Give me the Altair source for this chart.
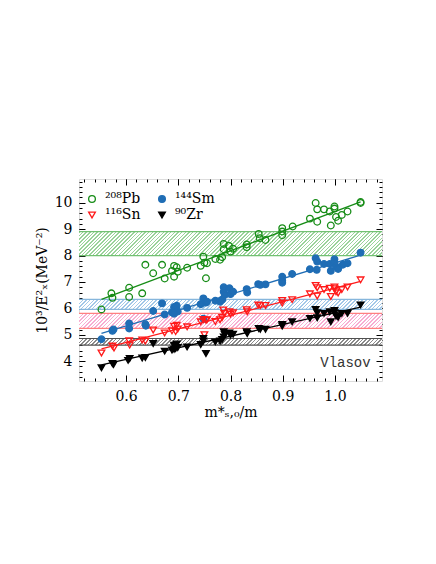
import altair as alt
import pandas as pd
import numpy as np

# ---------------- data ----------------
pb_x = [0.553, 0.572, 0.574, 0.606, 0.606, 0.631, 0.637, 0.652, 0.669, 0.674, 0.688, 0.692, 0.692,
        0.697, 0.699, 0.717, 0.743, 0.748, 0.750, 0.755, 0.753, 0.771, 0.780, 0.784, 0.787, 0.787,
        0.797, 0.800, 0.805, 0.831, 0.831, 0.854, 0.856, 0.867, 0.899, 0.899, 0.899, 0.919, 0.952,
        0.963, 0.966, 0.966, 0.979, 0.990, 0.992, 0.999, 0.999, 1.002, 1.006, 1.013, 1.024, 1.049, 1.049]
pb_y = [5.96, 6.57, 6.40, 6.78, 6.43, 6.57, 7.65, 7.33, 7.65, 7.13, 7.42, 7.61, 7.20,
        7.56, 7.39, 7.54, 7.61, 7.96, 7.73, 7.71, 7.14, 7.87, 7.84, 7.94, 8.44, 8.24,
        8.37, 8.15, 8.26, 8.42, 8.32, 8.82, 8.66, 8.59, 9.04, 8.91, 8.77, 9.10, 9.40,
        9.99, 9.75, 9.28, 9.75, 9.67, 9.14, 9.86, 9.78, 9.46, 9.32, 9.54, 9.67, 10.03, 9.99]

sm_x = [0.553, 0.574, 0.576, 0.606, 0.606, 0.637, 0.638, 0.652, 0.669, 0.674, 0.688, 0.692, 0.695,
        0.697, 0.699, 0.692, 0.717, 0.743, 0.748, 0.748, 0.753, 0.755, 0.771, 0.780, 0.784, 0.787,
        0.787, 0.789, 0.798, 0.800, 0.805, 0.831, 0.832, 0.853, 0.857, 0.867, 0.899, 0.899, 0.899,
        0.918, 0.952, 0.963, 0.966, 0.965, 0.979, 0.990, 0.992, 0.999, 0.999, 1.002, 1.006, 1.015,
        1.024, 1.049]
sm_y = [4.83, 5.15, 5.20, 5.43, 5.24, 5.40, 5.34, 5.90, 6.19, 5.77, 5.85, 6.05, 5.95,
        6.10, 5.88, 5.80, 6.02, 6.16, 6.38, 5.61, 6.22, 6.25, 6.29, 6.25, 6.33, 6.80,
        6.63, 6.51, 6.76, 6.54, 6.63, 6.73, 6.60, 6.92, 6.89, 6.91, 7.20, 7.05, 6.97,
        7.30, 7.48, 7.90, 7.77, 7.46, 7.68, 7.68, 7.42, 7.86, 7.73, 7.58, 7.49, 7.65,
        7.71, 8.11]

sn_x = [0.553, 0.574, 0.577, 0.606, 0.607, 0.631, 0.637, 0.652, 0.674, 0.688, 0.692, 0.695, 0.697,
        0.699, 0.717, 0.743, 0.748, 0.750, 0.753, 0.755, 0.771, 0.780, 0.784, 0.786, 0.788, 0.798,
        0.800, 0.805, 0.831, 0.832, 0.853, 0.857, 0.867, 0.899, 0.899, 0.918, 0.952, 0.963, 0.966,
        0.966, 0.979, 0.990, 0.992, 0.999, 0.999, 1.002, 1.006, 1.013, 1.024, 1.049]
sn_y = [4.31, 4.57, 4.50, 4.77, 4.61, 4.80, 4.76, 5.18, 5.07, 5.15, 5.32, 5.12, 5.36,
        5.22, 5.30, 5.49, 5.58, 5.00, 5.55, 5.57, 5.50, 5.57, 5.65, 5.94, 5.81, 5.87,
        5.78, 5.83, 5.95, 5.87, 6.13, 6.11, 6.11, 6.30, 6.20, 6.33, 6.55, 6.87, 6.78,
        6.47, 6.71, 6.76, 6.45, 6.81, 6.74, 6.63, 6.58, 6.71, 6.81, 7.08]

zr_x = [0.553, 0.574, 0.576, 0.604, 0.607, 0.631, 0.637, 0.652, 0.674, 0.688, 0.692, 0.695, 0.697,
        0.699, 0.692, 0.717, 0.743, 0.748, 0.748, 0.753, 0.771, 0.780, 0.784, 0.787, 0.789, 0.787,
        0.798, 0.800, 0.805, 0.831, 0.832, 0.854, 0.857, 0.867, 0.899, 0.899, 0.918, 0.952, 0.963,
        0.966, 0.966, 0.979, 0.990, 0.992, 0.999, 0.999, 1.002, 1.006, 1.013, 1.024, 1.049]
zr_y = [3.75, 3.91, 3.87, 4.03, 4.10, 4.12, 4.14, 4.67, 4.38, 4.42, 4.60, 4.48, 4.65,
        4.52, 4.45, 4.54, 4.63, 4.86, 4.76, 4.29, 4.73, 4.76, 4.82, 5.11, 5.01, 4.92,
        5.07, 4.99, 5.02, 5.11, 5.05, 5.24, 5.21, 5.21, 5.39, 5.33, 5.49, 5.62, 5.96,
        5.83, 5.64, 5.81, 5.87, 5.49, 5.92, 5.83, 5.71, 5.66, 5.81, 5.81, 6.13]

series_names = ["²⁰⁸Pb", "¹⁴⁴Sm", "¹¹⁶Sn", "⁹⁰Zr"]
series_colors = ["#168c16", "#1f6db5", "#ff1a1a", "#000000"]
series_fills = ["transparent", "#1f6db5", "transparent", "#000000"]
series_shapes = ["circle", "circle", "triangle-down", "triangle-down"]

# Vlasov bands (lower, upper) for Pb, Sm, Sn, Zr
band_lo = [8.00, 5.96, 5.24, 4.61]
band_hi = [8.91, 6.34, 5.81, 4.86]
band_hatch = ["#9ad39a", "#a3c8e8", "#f8aed3", "#8a8a8a"]
band_edge = ["#72c172", "#86b6dc", "#ff8080", "#505050"]

note_text = ["Vlasov"]
note_x = [1.02]
note_y = [3.92]

x_ticks = [0.6, 0.7, 0.8, 0.9, 1.0]
y_ticks = [4, 5, 6, 7, 8, 9, 10]
x_domain = [0.51, 1.09]
y_domain = [3.25, 10.9]

# ---------------- tables ----------------
frames = []
for name, xs, ys in zip(series_names, [pb_x, sm_x, sn_x, zr_x], [pb_y, sm_y, sn_y, zr_y]):
    frames.append(pd.DataFrame({"x": xs, "y": ys, "series": name}))
pts = pd.concat(frames, ignore_index=True)
note = pd.DataFrame({"x": note_x, "y": note_y, "t": note_text})

PW, PH = 303, 202
FONT = "DejaVu Serif"
XS = alt.Scale(domain=x_domain, nice=False, zero=False)
YS = alt.Scale(domain=y_domain, nice=False, zero=False)


def hatch(color, lo, hi, period=2.6, frac=0.4):
    W = PW
    H = (hi - lo) / (y_domain[1] - y_domain[0]) * PH
    c = (W + H) / (W * W + H * H)
    n = int(round((W + H) / np.sqrt(2) / period))
    stops = []
    for k in range(n):
        a, b, e = k / n, (k + frac) / n, (k + 1) / n
        stops += [
            alt.GradientStop(offset=round(a, 5), color=color),
            alt.GradientStop(offset=round(b, 5), color=color),
            alt.GradientStop(offset=round(b, 5), color="white"),
            alt.GradientStop(offset=round(e, 5), color="white"),
        ]
    return alt.LinearGradient(gradient="linear", stops=stops, x1=0, y1=0,
                              x2=round(c * W, 5), y2=round(c * H, 5))


def tick_axis(orient, values, size):
    return alt.Axis(orient=orient, values=values, labels=False, domain=False, grid=False,
                    ticks=True, tickSize=alt.ExprRef(str(-size)), tickColor="black",
                    tickWidth=1, title=None)


x_minor = [round(0.52 + 0.02 * i, 2) for i in range(29)]
y_minor = [round(3.4 + 0.2 * i, 1) for i in range(38)]

layers = []
# hatched bands with their edge lines
for i in range(4):
    bdf = pd.DataFrame({"lo": [band_lo[i]], "hi": [band_hi[i]]})
    layers.append(
        alt.Chart(bdf).mark_rect(fill=hatch(band_hatch[i], band_lo[i], band_hi[i]), strokeWidth=0)
        .encode(y=alt.Y("lo:Q", scale=YS, axis=None), y2="hi:Q")
    )
    edf = pd.DataFrame({"y": [band_lo[i], band_hi[i]]})
    layers.append(
        alt.Chart(edf).mark_rule(strokeWidth=1.2, color=band_edge[i])
        .encode(y=alt.Y("y:Q", scale=YS, axis=None))
    )

# regression lines, one per nucleus
for i, name in enumerate(series_names):
    layers.append(
        alt.Chart(pts).transform_filter(alt.datum.series == name)
        .transform_regression("x", "y").mark_line(strokeWidth=1.3, color=series_colors[i])
        .encode(x=alt.X("x:Q", scale=XS, axis=None), y=alt.Y("y:Q", scale=YS, axis=None))
    )

leg = alt.Legend(orient="none", legendX=4, legendY=11, direction="horizontal", columns=2,
                 title=None, labelFont=FONT, labelFontSize=14,
                 symbolSize=45, symbolStrokeWidth=1.3, columnPadding=14, rowPadding=2,
                 padding=2, labelOffset=6, labelColor="black")

# points (carry labelled axes)
layers.append(
    alt.Chart(pts).mark_point(opacity=1, size=44, strokeWidth=1.3).encode(
        x=alt.X("x:Q", scale=XS, axis=alt.Axis(orient="bottom", values=x_ticks, format=".1f",
                                              ticks=False, domain=False, grid=False,
                                              labelFont=FONT, labelFontSize=14, labelPadding=8,
                                              labelColor="black",
                                              title="m*ₛ,₀/m", titleFont=FONT, titleFontSize=14,
                                              titleFontWeight="normal", titlePadding=2,
                                              titleColor="black")),
        y=alt.Y("y:Q", scale=YS, axis=alt.Axis(orient="left", values=y_ticks, format="d",
                                              ticks=False, domain=False, grid=False,
                                              labelFont=FONT, labelFontSize=14, labelPadding=7,
                                              labelColor="black",
                                              title="10³/E²ₓ(MeV⁻²)", titleFont=FONT, titleFontSize=14,
                                              titleFontWeight="normal", titlePadding=5,
                                              titleColor="black")),
        stroke=alt.Stroke("series:N", scale=alt.Scale(domain=series_names, range=series_colors), legend=leg),
        fill=alt.Fill("series:N", scale=alt.Scale(domain=series_names, range=series_fills), legend=leg),
        shape=alt.Shape("series:N", scale=alt.Scale(domain=series_names, range=series_shapes), legend=leg),
    )
)

# Vlasov label
layers.append(
    alt.Chart(note).mark_text(font="Liberation Mono", fontSize=14, color="#333333").encode(
        x=alt.X("x:Q", scale=XS, axis=None), y=alt.Y("y:Q", scale=YS, axis=None), text="t:N"
    )
)

# invisible layers carrying the inward ticks
for ox, oy, xv, yv, s in [("bottom", "left", x_ticks, y_ticks, 6),
                          ("bottom", "left", x_minor, y_minor, 3),
                          ("top", "right", x_ticks, y_ticks, 6),
                          ("top", "right", x_minor, y_minor, 3)]:
    layers.append(
        alt.Chart(pts).mark_point(opacity=0).encode(
            x=alt.X("x:Q", scale=XS, axis=tick_axis(ox, xv, s)),
            y=alt.Y("y:Q", scale=YS, axis=tick_axis(oy, yv, s)),
        )
    )

chart = alt.layer(*layers).resolve_axis(x="independent", y="independent").properties(
    width=PW, height=PH,
    autosize=alt.AutoSizeParams(type="none"),
    padding={"left": 71, "top": 171, "right": 40, "bottom": 150},
).configure_view(stroke="black", strokeWidth=1.2).configure(background="white")

chart.save("out.html", embed_options={"renderer": "svg", "actions": False})
